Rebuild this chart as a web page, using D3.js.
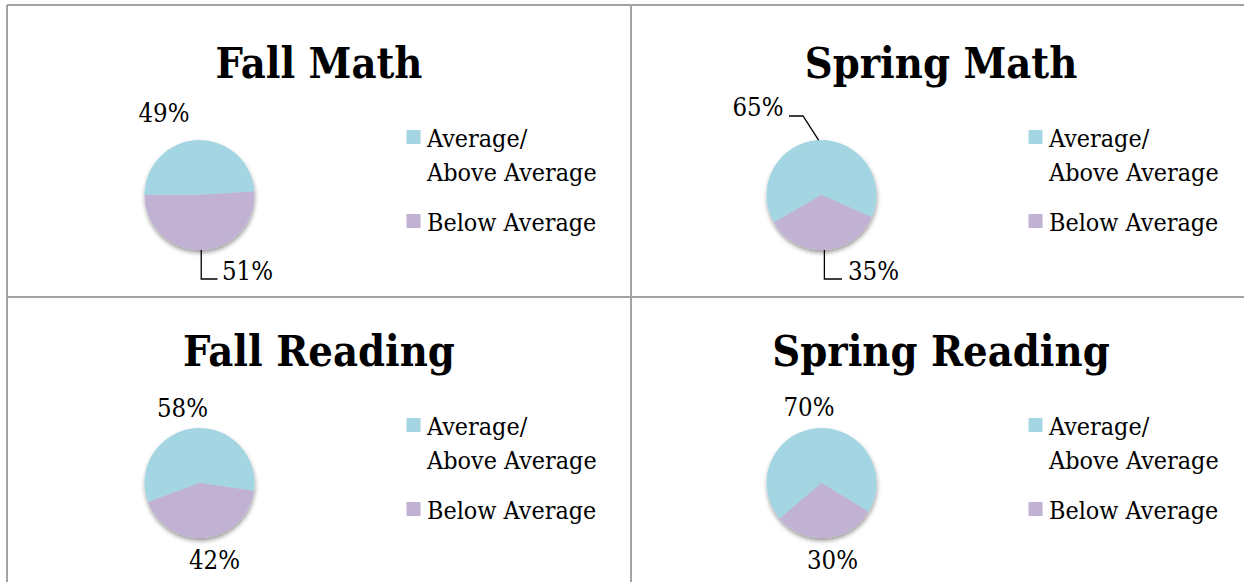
<!DOCTYPE html>
<html>
<head>
<meta charset="utf-8">
<script src="https://cdn.jsdelivr.net/npm/d3@7"></script>
<style>
  html, body { margin: 0; padding: 0; background: #fff; }
  svg { display: block; }
</style>
</head>
<body>
<svg id="chart" width="1244" height="582"></svg>
<script>
// ---- data ----
const chartTitles = ["Fall Math", "Spring Math", "Fall Reading", "Spring Reading"];
const categories = ["Average/ Above Average", "Below Average"];
const legendLines = [["Average/", "Above Average"], ["Below Average"]];
const aboveValues = [49, 65, 58, 70];
const belowValues = [51, 35, 42, 30];

// ---- layout / style (not data) ----
const W = 1244, H = 582;
const colors = ["#a4d5e3", "#c1b1d3"];
const gridColor = "#a3a3a3";
const fontFamily = "'DejaVu Serif Condensed', 'DejaVu Serif', serif";
const colOrigin = [0, 622];
const rowOrigin = [0, 288];
const radius = 55;
const pieCenter = { x: 199.5, y: 195 };
const titlePos = { x: 319, y: 78 };
const legendPos = { x: 406.5, y: 130 };
// first-slice start angle (degrees clockwise from 12 o'clock) per chart
const startAngles = [-90, -120, -110.4, -130.5];
// label layout per chart: [above, below]; offsets relative to pie centre
const labelLayout = [
  [{ dx: -35.5, dy: -73, anchor: "middle" },
   { dx: 22.5, dy: 85, anchor: "start", leader: { elbowY: 84, endDx: 18 } }],
  [{ dx: -38, dy: -79, anchor: "end", leader: { diag: true, elbowDx: -18.5, elbowY: -79, endDx: -32.5 } },
   { dx: 26.5, dy: 85, anchor: "start", leader: { elbowY: 84, endDx: 20.5 } }],
  [{ dx: -17, dy: -66, anchor: "middle" },
   { dx: 15, dy: 86, anchor: "middle" }],
  [{ dx: -12.5, dy: -67, anchor: "middle" },
   { dx: 11, dy: 86, anchor: "middle" }]
];

const svg = d3.select("#chart");

// drop shadow
const defs = svg.append("defs");
const f = defs.append("filter").attr("id", "shadow")
  .attr("x", "-30%").attr("y", "-30%").attr("width", "160%").attr("height", "160%");
f.append("feDropShadow").attr("dx", 0.5).attr("dy", 3).attr("stdDeviation", 2.2)
  .attr("flood-color", "#000").attr("flood-opacity", 0.38);

// grid lines
const grid = svg.append("g").attr("stroke", gridColor).attr("stroke-width", 2);
grid.append("line").attr("x1", 7).attr("x2", W).attr("y1", 5).attr("y2", 5);
grid.append("line").attr("x1", 7).attr("x2", W).attr("y1", 297).attr("y2", 297);
grid.append("line").attr("x1", 7).attr("x2", 7).attr("y1", 5).attr("y2", H);
grid.append("line").attr("x1", 631).attr("x2", 631).attr("y1", 5).attr("y2", H);

const color = d3.scaleOrdinal().domain(categories).range(colors);
const arc = d3.arc().innerRadius(0).outerRadius(radius);
const deg = Math.PI / 180;

function styleText(sel, size, bold) {
  sel.attr("font-family", fontFamily)
    .style("font-stretch", "condensed")
    .attr("font-size", size)
    .attr("font-weight", bold ? "bold" : "normal")
    .attr("fill", "#000");
  return sel;
}

chartTitles.forEach((title, i) => {
  const ox = colOrigin[i % 2], oy = rowOrigin[Math.floor(i / 2)];
  const g = svg.append("g").attr("transform", `translate(${ox},${oy})`);

  styleText(g.append("text"), 43, true)
    .attr("x", titlePos.x).attr("y", titlePos.y)
    .attr("text-anchor", "middle")
    .text(title);

  const values = [aboveValues[i], belowValues[i]];
  const data = categories.map((c, k) => ({ cat: c, value: values[k] }));
  const s = startAngles[i] * deg;
  const pie = d3.pie().sort(null).value(d => d.value).startAngle(s).endAngle(s + 2 * Math.PI);
  const arcs = pie(data);

  const pg = g.append("g").attr("transform", `translate(${pieCenter.x},${pieCenter.y})`);
  pg.append("g").attr("filter", "url(#shadow)")
    .selectAll("path").data(arcs).join("path")
    .attr("d", arc)
    .attr("fill", d => color(d.data.cat));

  // labels
  arcs.forEach((a, k) => {
    const L = labelLayout[i][k];
    const mid = (a.startAngle + a.endAngle) / 2;
    const px = Math.sin(mid) * radius, py = -Math.cos(mid) * radius;
    if (L.leader) {
      let pts;
      if (L.leader.diag) {
        pts = [[px, py], [L.leader.elbowDx, L.leader.elbowY], [L.leader.endDx, L.leader.elbowY]];
      } else {
        pts = [[px, py], [px, L.leader.elbowY], [L.leader.endDx, L.leader.elbowY]];
      }
      pg.append("path").attr("d", d3.line()(pts))
        .attr("fill", "none").attr("stroke", "#000").attr("stroke-width", 1.3);
    }
    styleText(pg.append("text"), 25.5, false)
      .attr("x", L.dx).attr("y", L.dy)
      .attr("text-anchor", L.anchor)
      .text(a.data.value + "%");
  });

  // legend
  const lg = g.append("g").attr("transform", `translate(${legendPos.x},${legendPos.y})`);
  const itemY = [0, 84];
  categories.forEach((c, k) => {
    lg.append("rect").attr("x", 0).attr("y", itemY[k]).attr("width", 14).attr("height", 14)
      .attr("fill", color(c));
    legendLines[k].forEach((line, j) => {
      styleText(lg.append("text"), 24.9, false)
        .attr("x", 20.5).attr("y", itemY[k] + 17 + j * 33.5)
        .text(line);
    });
  });
});
</script>
</body>
</html>
